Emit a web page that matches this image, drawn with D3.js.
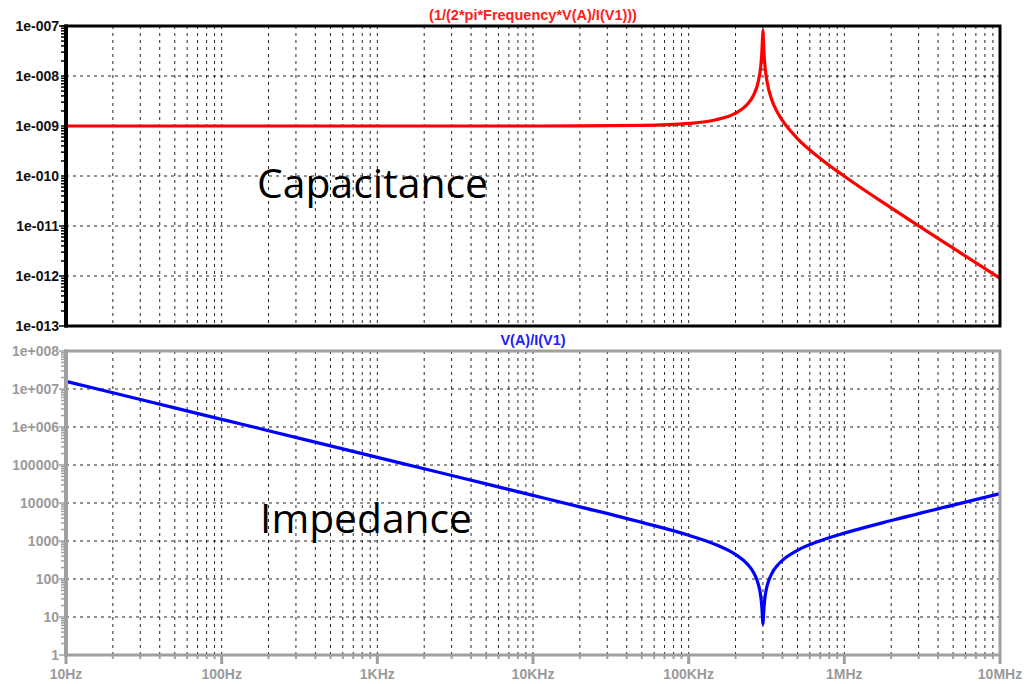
<!DOCTYPE html>
<html><head><meta charset="utf-8">
<script src="https://cdn.jsdelivr.net/npm/d3@7"></script>
<style>body{margin:0;background:#fff}svg{display:block}</style>
</head><body>
<svg id="c" width="1027" height="684"></svg>
<script>
// ---- data ----
const freqs = [10,20,50,100,200,500,1e3,2e3,5e3,1e4,2e4,5e4,1e5,1.5e5,2e5,2.4e5,2.6e5,2.8e5,2.9e5,2.95e5,2.98e5,3e5,3.02e5,3.05e5,3.1e5,3.2e5,3.4e5,3.7e5,4e5,5e5,7e5,1e6,2e6,5e6,1e7];
const capacitance = [1e-9,1e-9,1e-9,1e-9,1e-9,1e-9,1e-9,1e-9,1e-9,1.001e-9,1.0045e-9,1.029e-9,1.125e-9,1.333e-9,1.8e-9,2.78e-9,4.02e-9,7.73e-9,1.5e-8,2.84e-8,5.55e-8,8.16e-8,5.5e-8,2.79e-8,1.45e-8,7.23e-9,3.51e-9,1.92e-9,1.29e-9,5.6e-10,2.25e-10,9.9e-11,2.3e-11,3.6e-12,9.0e-13];
const impedance = [1.59e7,7.96e6,3.18e6,1.59e6,7.96e5,3.18e5,1.59e5,7.96e4,3.18e4,1.59e4,7922,3095,1415,796,442,239,152.5,73.6,36.6,19.0,9.63,6.5,9.59,18.7,35.4,68.8,133,224,310,566,1011,1609,3457,8810,17667];
const xTickVals = [10,100,1e3,1e4,1e5,1e6,1e7];
const xTickLabels = ["10Hz","100Hz","1KHz","10KHz","100KHz","1MHz","10MHz"];
const capTickVals = [1e-7,1e-8,1e-9,1e-10,1e-11,1e-12,1e-13];
const capTickLabels = ["1e-007","1e-008","1e-009","1e-010","1e-011","1e-012","1e-013"];
const impTickVals = [1e8,1e7,1e6,1e5,1e4,1e3,100,10,1];
const impTickLabels = ["1e+008","1e+007","1e+006","100000","10000","1000","100","10","1"];
const capTitle = "(1/(2*pi*Frequency*V(A)/I(V1)))";
const impTitle = "V(A)/I(V1)";

// ---- layout ----
const svg = d3.select("#c");
const X0 = 66, X1 = 1000;
const FONT = "Liberation Sans, Arial, sans-serif";
const x = d3.scaleLog().domain([10,1e7]).range([X0,X1]);
const yC = d3.scaleLog().domain([1e-13,1e-7]).range([326,26]);
const yZ = d3.scaleLog().domain([1,1e8]).range([655,351]);

function minorVals(lo, hi){
  const out=[];
  for(let d=lo; d<hi; d*=10){ for(let k=1;k<=9;k++){ const v=k*d; if(v>=lo && v<=hi) out.push(v);} }
  out.push(hi);
  return out;
}
const xAll = minorVals(10,1e7);

function panel(y, top, bot, axisColor, yTickVals, yTickLabels, labelColor, data, lineColor, title, titleColor, yDomain){
  const g = svg.append("g");
  g.selectAll(".vg").data(xAll.filter(v=>v>10 && v<1e7)).join("line")
    .attr("x1",d=>x(d)).attr("x2",d=>x(d)).attr("y1",top).attr("y2",bot)
    .attr("stroke","#000").attr("stroke-width",1).attr("stroke-dasharray","3,4").attr("opacity",0.85);
  g.selectAll(".hg").data(yTickVals.slice(1,-1)).join("line")
    .attr("x1",X0).attr("x2",X1).attr("y1",d=>y(d)).attr("y2",d=>y(d))
    .attr("stroke","#000").attr("stroke-width",1).attr("stroke-dasharray","3,4").attr("opacity",0.85);
  const yMin = minorVals(yDomain[0], yDomain[1]);
  g.selectAll(".ymt").data(yMin).join("line")
    .attr("x1",X0-2).attr("x2",d=>yTickVals.includes(d)?X0-7:X0-5)
    .attr("y1",d=>y(d)).attr("y2",d=>y(d)).attr("stroke",axisColor).attr("stroke-width",1.5);
  const line = d3.line().x((d,i)=>x(freqs[i])).y(d=>y(d)).curve(d3.curveMonotoneX);
  g.append("path").attr("d",line(data)).attr("fill","none").attr("stroke",lineColor).attr("stroke-width",3.2).attr("stroke-linejoin","round");
  g.append("rect").attr("x",X0).attr("y",top).attr("width",X1-X0).attr("height",bot-top)
    .attr("fill","none").attr("stroke",axisColor).attr("stroke-width",3);
  g.append("line").attr("x1",X0).attr("x2",X0).attr("y1",top-1.5).attr("y2",bot+1.5).attr("stroke",axisColor).attr("stroke-width",4);
  g.selectAll(".yl").data(yTickVals).join("text")
    .attr("x",X0-7).attr("y",d=>y(d)).attr("dy","0.36em").attr("text-anchor","end")
    .attr("font-family",FONT).attr("font-weight","bold").attr("font-size",14)
    .attr("fill",labelColor).text((d,i)=>yTickLabels[i]);
  g.append("text").attr("x",(X0+X1)/2).attr("y",top-6).attr("text-anchor","middle")
    .attr("font-family",FONT).attr("font-weight","bold").attr("font-size",14.5)
    .attr("fill",titleColor).text(title);
  return g;
}

panel(yC, 26, 326, "#000", capTickVals, capTickLabels, "#111", capacitance, "#ff0000", capTitle, "#ff2020", [1e-13,1e-7]);
const gz = panel(yZ, 351, 655, "#a0a0a0", impTickVals, impTickLabels, "#9a9a9a", impedance, "#0000ff", impTitle, "#2020ff", [1,1e8]);

gz.selectAll(".xt").data(xAll).join("line")
  .attr("x1",d=>x(d)).attr("x2",d=>x(d)).attr("y1",655)
  .attr("y2",d=>xTickVals.includes(d)?664:659)
  .attr("stroke","#a0a0a0").attr("stroke-width",d=>xTickVals.includes(d)?3:2);
gz.selectAll(".xl").data(xTickVals).join("text")
  .attr("x",d=>x(d)).attr("y",679).attr("text-anchor","middle")
  .attr("font-family",FONT).attr("font-weight","bold").attr("font-size",14)
  .attr("fill","#9a9a9a").text((d,i)=>xTickLabels[i]);

svg.append("text").attr("x",257).attr("y",198).attr("font-family","Open Sans, Noto Sans, sans-serif")
  .attr("font-size",40).attr("fill","#000").attr("textLength",231).attr("lengthAdjust","spacingAndGlyphs").text("Capacitance");
svg.append("text").attr("x",260).attr("y",533).attr("font-family","Open Sans, Noto Sans, sans-serif")
  .attr("font-size",40).attr("fill","#000").attr("textLength",212).attr("lengthAdjust","spacingAndGlyphs").text("Impedance");
</script>
</body></html>
